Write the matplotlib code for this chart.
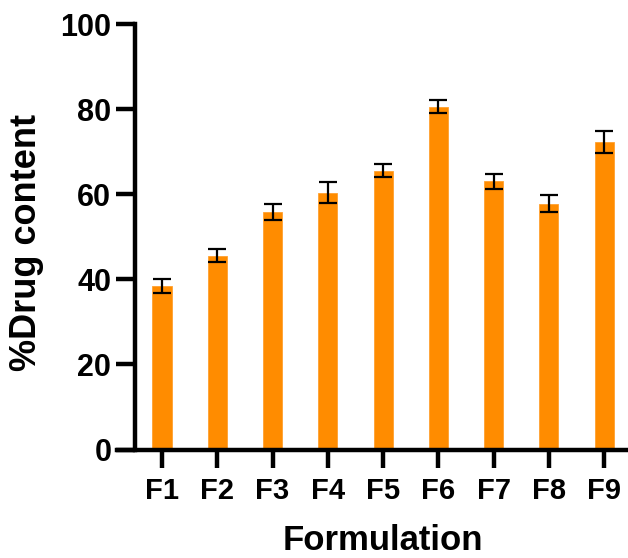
import numpy as np
import matplotlib
matplotlib.use('Agg')
import matplotlib.pyplot as plt

# Data
formulations = ['F1', 'F2', 'F3', 'F4', 'F5', 'F6', 'F7', 'F8', 'F9']
drug_content = [38.4, 45.6, 55.9, 60.4, 65.5, 80.6, 63.0, 57.8, 72.3]
drug_content_sd = [1.7, 1.6, 1.9, 2.4, 1.5, 1.5, 1.8, 2.0, 2.5]

plt.rcParams['font.family'] = ['Liberation Sans', 'DejaVu Sans']
plt.rcParams['font.weight'] = 'bold'

fig = plt.figure(figsize=(6.28, 5.58), dpi=100)
ax = fig.add_axes([0.1863, 0.1944, 0.8137, 0.7625])

x_pos = np.arange(len(formulations))
ax.bar(x_pos, drug_content, width=0.344, color='#FF8C00', edgecolor='#FFA030',
       linewidth=0.6, zorder=2)
ax.errorbar(x_pos, drug_content, yerr=drug_content_sd, fmt='none', ecolor='black',
            elinewidth=1.6, capsize=6.8, capthick=1.6, zorder=3)

ax.set_xlim(-0.814, 8.43)
ax.set_ylim(0, 100)
ax.set_yticks(np.arange(0, 101, 20))
ax.set_xticks(x_pos)
ax.set_xticklabels(formulations)

for side in ['top', 'right']:
    ax.spines[side].set_visible(False)
ax.spines['left'].set_position(('axes', 0.035))
ax.spines['left'].set_linewidth(3.2)
ax.spines['bottom'].set_linewidth(3.2)
ax.spines['left'].set_capstyle('projecting')
ax.spines['bottom'].set_capstyle('projecting')

ax.tick_params(axis='y', length=14, width=3.2, pad=3, labelsize=22)
ax.tick_params(axis='x', length=13, width=3.2, pad=7, labelsize=21)
for lbl in ax.get_xticklabels() + ax.get_yticklabels():
    lbl.set_fontweight('bold')

fig.text(383 / 628, 1 - 550 / 558, 'Formulation', ha='center', va='baseline',
         fontsize=25, fontweight='bold')
fig.text(27 / 628, 1 - 242 / 558, '%Drug content', ha='center', va='center',
         rotation=90, fontsize=26, fontweight='bold')

fig.savefig('out.png', dpi=100)
